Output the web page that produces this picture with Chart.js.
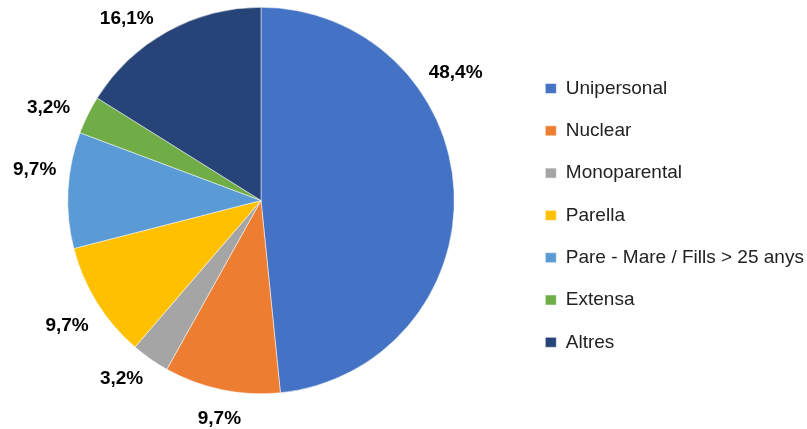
<!DOCTYPE html>
<html>
<head>
<meta charset="utf-8">
<script src="https://cdn.jsdelivr.net/npm/chart.js@4"></script>
<style>
  html, body { margin: 0; padding: 0; background: #fff; }
  #wrap { width: 807px; height: 429px; }
</style>
</head>
<body>
<div id="wrap"><canvas id="llarChart"></canvas></div>
<script>
// data
const categories = ['Unipersonal', 'Nuclear', 'Monoparental', 'Parella', 'Pare - Mare / Fills > 25 anys', 'Extensa', 'Altres'];
const shares = [48.4, 9.7, 3.2, 9.7, 9.7, 3.2, 16.1];
const colors = ['#4472C4', '#ED7D31', '#A5A5A5', '#FFC000', '#5B9BD5', '#70AD47', '#264478'];

// nudges for the outside labels (degrees / px), like excel's "best fit"
const labelShift = [-33, -1.5, 1.5, -2.5, 5.5, -1, -5];
const labelGap = [20, 20, 20, 20, 14, 20, 20];

const outsideLabels = {
    id: 'outsideLabels',
    afterDatasetsDraw(chart) {
        const ctx = chart.ctx;
        const meta = chart.getDatasetMeta(0);
        ctx.save();
        ctx.font = 'bold 19px "Liberation Sans", Arial, sans-serif';
        ctx.fillStyle = '#000';
        ctx.textAlign = 'center';
        ctx.textBaseline = 'middle';
        meta.data.forEach((arc, i) => {
            const p = arc.getProps(['x', 'y', 'startAngle', 'endAngle', 'outerRadius'], true);
            const a = (p.startAngle + p.endAngle) / 2 + labelShift[i] * Math.PI / 180;
            const ux = Math.cos(a), uy = Math.sin(a);
            const txt = shares[i].toFixed(1).replace('.', ',') + '%';
            const w = ctx.measureText(txt).width;
            const r = p.outerRadius + labelGap[i];
            const x = p.x + r * ux + (w / 2) * ux;
            const y = p.y + r * uy + 7 * uy + 1;
            ctx.fillText(txt, x, y);
        });
        ctx.restore();
    }
};

const ctx = document.getElementById('llarChart');
new Chart(ctx, {
    type: 'pie',
    data: {
        labels: categories,
        datasets: [{
            data: shares,
            backgroundColor: colors,
            borderColor: '#ffffff',
            borderWidth: 0.5
        }]
    },
    options: {
        responsive: true,
        maintainAspectRatio: false,
        animation: false,
        events: [],
        layout: {
            padding: { left: 0, right: 0, top: 7, bottom: 35 }
        },
        plugins: {
            legend: {
                position: 'right',
                maxWidth: 285,
                title: {
                    display: true,
                    text: '',
                    padding: { top: 15.4, bottom: 0 }
                },
                labels: {
                    boxWidth: 11,
                    boxHeight: 10,
                    padding: 23.3,
                    color: '#222',
                    font: { family: '"Liberation Sans", Arial, sans-serif', size: 19 }
                }
            },
            tooltip: { enabled: false }
        }
    },
    plugins: [outsideLabels]
});
</script>
</body>
</html>
